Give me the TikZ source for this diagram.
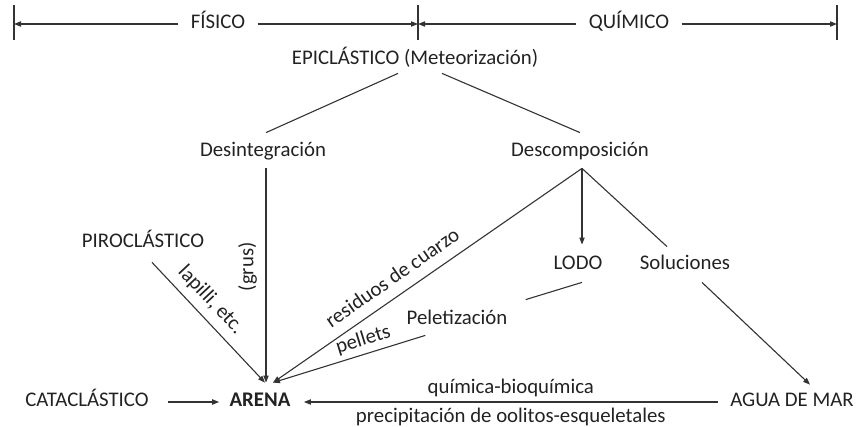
\documentclass[tikz,border=0pt]{standalone}
\usepackage{fontspec}
\setmainfont{Carlito}
\usepackage{xcolor}
\definecolor{ink}{HTML}{222222}
\definecolor{wire}{HTML}{333333}
\usetikzlibrary{arrows.meta,calc}

\begin{document}
\begin{tikzpicture}[
  x=0.5pt,y=-0.5pt,
  font=\fontsize{10.4}{12}\selectfont,
  >={Triangle[length=3.5pt,width=2.6pt]},
  every node/.style={text=ink},
  term/.style={inner sep=0pt,text height=7pt,text depth=2pt},
  dimlbl/.style={term,inner xsep=6pt},
  edge/.style={draw=wire,line width=0.55pt},
  lbl/.style={inner sep=2pt,text height=7pt,text depth=2pt},
]
\useasboundingbox (0,0) rectangle (857,427);

% --- top scale: fisico / quimico
\coordinate (tl) at (14,24);
\coordinate (tm) at (418,24);
\coordinate (tr) at (837,24);
\node[dimlbl] (fis)  at (218,24) {FÍSICO};
\node[dimlbl] (quim) at (629,24) {QUÍMICO};
\foreach \t in {tl,tm,tr}
  \draw[edge] ($(\t)+(0,-19)$) -- ($(\t)+(0,16)$);
\draw[edge,->] (fis.west) -- (tl);
\draw[edge,->] (fis.east) -- (tm);
\draw[edge,->] (quim.west) -- (tm);
\draw[edge,->] (quim.east) -- (tr);

% --- processes
\node[term] (epi)     at (415,60)  {EPICLÁSTICO (Meteorización)};
\node[term] (desint)  at (263,152) {Desintegración};
\node[term] (descomp) at (580,152) {Descomposición};
\node[term] (piro)    at (143,243) {PIROCLÁSTICO};
\node[term] (lodo)    at (578,265) {LODO};
\node[term] (sol)     at (685,265) {Soluciones};
\node[term] (pelet)   at (457,320) {Peletización};

% --- bottom row
\node[term] (cata) at (87,402)  {CATACLÁSTICO};
\node[term,font=\fontsize{10.4}{12}\selectfont\bfseries] (arena) at (260,402) {ARENA};
\node[term] (agua) at (792,402) {AGUA DE MAR};

% --- connectors
\coordinate (dk) at ([xshift=1pt,yshift=-3.5pt]descomp.south);
\draw[edge] ([xshift=-8.5pt,yshift=-2pt]epi.south) -- ([xshift=1.5pt,yshift=5pt]desint.north);
\draw[edge] ([xshift=13.5pt,yshift=-2pt]epi.south) -- ([yshift=5pt]descomp.north);
\draw[edge,->] ([xshift=1.5pt,yshift=-3.5pt]desint.south)
   -- node[lbl,pos=0.46,rotate=90,anchor=south,inner sep=4pt]{(grus)}
   ([xshift=3pt,yshift=5pt]arena.north);
\draw[edge,->] ([xshift=4.5pt,yshift=-5pt]piro.south)
   -- node[lbl,pos=0.41,sloped,above,inner sep=3.5pt]{lapilli, etc.}
   ([xshift=2.5pt,yshift=5pt]arena.north);
\draw[edge,->] (dk) -- node[lbl,pos=0.58,sloped,above,inner sep=3.5pt]{residuos de cuarzo}
   ([xshift=6.5pt,yshift=5pt]arena.north);
\draw[edge,->] (dk) -- ([xshift=2pt,yshift=5.5pt]lodo.north);
\draw[edge] (dk) -- ([xshift=-9pt,yshift=4.5pt]sol.north);
\draw[edge] ([xshift=2pt,yshift=-4pt]lodo.south) -- ([xshift=9pt,yshift=5.5pt]pelet.north east);
\draw[edge,->] ([xshift=9.5pt,yshift=-3pt]pelet.south west)
   -- node[lbl,pos=0.38,sloped,above]{pellets}
   ([xshift=6.5pt,yshift=5pt]arena.north);
\draw[edge,->] ([xshift=8.5pt,yshift=-4pt]sol.south) -- ([xshift=9pt,yshift=4pt]agua.north);
\draw[edge,->] ([xshift=9.5pt]cata.east) -- ([xshift=-5pt]arena.west);
\draw[edge,->] ([xshift=-6pt]agua.west)
   -- node[lbl,above]{química-bioquímica}
      node[lbl,below,inner sep=3pt]{precipitación de oolitos-esqueletales}
   ([xshift=6.5pt]arena.east);

\end{tikzpicture}
\end{document}
